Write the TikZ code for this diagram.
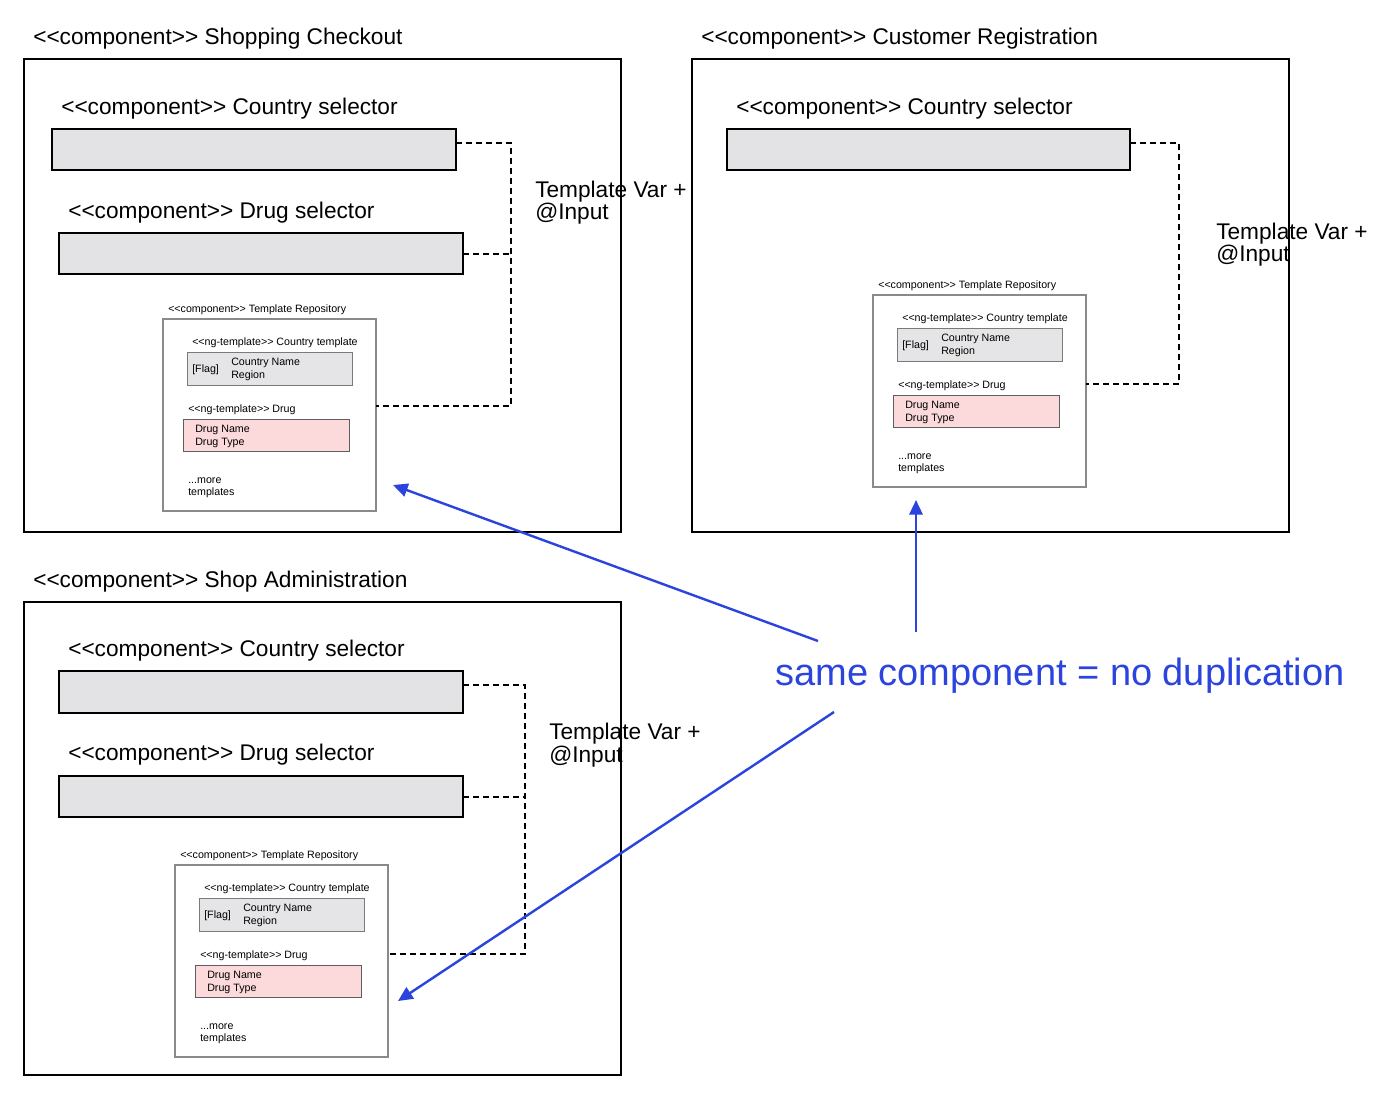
\documentclass[tikz,border=0pt]{standalone}
\usepackage{fontspec}
\setmainfont{Liberation Sans}[Ligatures=TeXOff]
\usetikzlibrary{calc,arrows.meta}
\definecolor{barfill}{HTML}{E3E3E6}
\definecolor{ctyfill}{HTML}{E5E5E7}
\definecolor{drugfill}{HTML}{FCDADC}
\definecolor{repoline}{HTML}{8A8A8A}
\definecolor{ctyline}{HTML}{7A7A7A}
\definecolor{drugline}{HTML}{5E5E5E}
\definecolor{arrowblue}{HTML}{2B44DE}
\tikzset{
  outerbox/.style={draw=black, line width=1.2pt},
  selbar/.style={draw=black, line width=1.3pt, fill=barfill},
  repobox/.style={draw=repoline, line width=0.8pt, fill=white},
  ctybox/.style={draw=ctyline, line width=0.7pt, fill=ctyfill},
  drugbox/.style={draw=drugline, line width=0.7pt, fill=drugfill},
  bigtxt/.style={font=\fontsize{17}{20}\selectfont, anchor=base west, inner sep=0pt},
  smalltxt/.style={font=\fontsize{8}{9.6}\selectfont, anchor=base west, inner sep=0pt},
  bluetxt/.style={font=\fontsize{28.5}{32}\selectfont, text=arrowblue, anchor=base west, inner sep=0pt},
  dashconn/.style={draw=black, line width=1.1pt, dash pattern=on 4.5pt off 3pt},
  bluearrow/.style={draw=arrowblue, line width=1.8pt, -{Triangle[length=11pt,width=10pt]}},
}
\newcommand\mybox[6]{\node[#1, anchor=north west, minimum width={(#4-#2)*0.75pt}, minimum height={(#5-#3)*0.75pt}, inner sep=0pt, outer sep=0pt] (#6) at (#2,#3) {};}
\newcommand\reposet[2]{%
\begin{scope}[shift={#2}]
\node[smalltxt] (#1lbl) at (5,-7) {<<component>> Template Repository};
\mybox{repobox}{0}{0}{213}{192}{#1}
\node[smalltxt] (#1ctl) at (29,26) {<<ng-template>> Country template};
\mybox{ctybox}{24}{33}{189}{66}{#1cty}
\node[smalltxt] (#1flag) at (29,53) {[Flag]};
\node[smalltxt] (#1cn) at (68,46) {Country Name};
\node[smalltxt] (#1rg) at (68,59) {Region};
\node[smalltxt] (#1dl) at (25,93) {<<ng-template>> Drug};
\mybox{drugbox}{20}{100}{186}{132}{#1drug}
\node[smalltxt] (#1dn) at (32,113) {Drug Name};
\node[smalltxt] (#1dt) at (32,126) {Drug Type};
\node[smalltxt] (#1more) at (25,164) {...more};
\node[smalltxt] (#1tpl) at (25,176) {templates};
\end{scope}}
\begin{document}
\begin{tikzpicture}[x=0.75pt, y=-0.75pt]
\useasboundingbox[fill=white] (0,0) rectangle (1400,1101);

% ---------- Shopping Checkout ----------
\node[bigtxt] (sct) at (33,44) {<<component>> Shopping Checkout};
\mybox{outerbox}{24}{59}{621}{532}{sc}
\node[bigtxt] (s1cl) at (61,114) {<<component>> Country selector};
\mybox{selbar}{52}{129}{456}{170}{s1cb}
\node[bigtxt] (s1dl) at (68,218) {<<component>> Drug selector};
\mybox{selbar}{59}{233}{463}{274}{s1db}
\reposet{s1r}{(163,319)}
\coordinate (s1j) at (511,143);
\draw[dashconn] ($(s1cb.north east)+(0,14)$) -- (s1j) |- ($(s1r.east)+(0,-9)$);
\draw[dashconn] ($(s1db.east)+(0,0.5)$) -- ($(s1db.east -| s1j)+(0,0.5)$);
\node[bigtxt] (s1t1) at (535,197) {Template Var +};
\node[bigtxt] (s1t2) at (535,219) {@Input};

% ---------- Customer Registration ----------
\node[bigtxt] (crt) at (701,44) {<<component>> Customer Registration};
\mybox{outerbox}{692}{59}{1289}{532}{cr}
\node[bigtxt] (c1cl) at (736,114) {<<component>> Country selector};
\mybox{selbar}{727}{129}{1130}{170}{c1cb}
\reposet{c1r}{(873,295)}
\coordinate (c1j) at (1179,143);
\draw[dashconn] ($(c1cb.north east)+(0,14)$) -- (c1j) |- ($(c1r.east)+(0,-7)$);
\node[bigtxt] (c1t1) at (1216,239) {Template Var +};
\node[bigtxt] (c1t2) at (1216,261) {@Input};

% ---------- Shop Administration ----------
\node[bigtxt] (sat) at (33,587) {<<component>> Shop Administration};
\mybox{outerbox}{24}{602}{621}{1075}{sa}
\node[bigtxt] (a1cl) at (68,656) {<<component>> Country selector};
\mybox{selbar}{59}{671}{463}{713}{a1cb}
\node[bigtxt] (a1dl) at (68,760) {<<component>> Drug selector};
\mybox{selbar}{59}{776}{463}{817}{a1db}
\reposet{a1r}{(175,865)}
\coordinate (a1j) at (525,685);
\draw[dashconn] ($(a1cb.north east)+(0,14)$) -- (a1j) |- ($(a1r.east)+(0,-7)$);
\draw[dashconn] ($(a1db.east)+(0,0.5)$) -- ($(a1db.east -| a1j)+(0,0.5)$);
\node[bigtxt] (a1t1) at (549,739) {Template Var +};
\node[bigtxt] (a1t2) at (549,762) {@Input};

% ---------- blue note and arrows ----------
\node[bluetxt] (same) at (775,685) {same component = no duplication};
\coordinate (t1) at (818,641);
\coordinate (h1) at (393,485);
\coordinate (t2) at (916,632);
\coordinate (h2) at (916,500);
\coordinate (t3) at (834,712);
\coordinate (h3) at (398,1001);
\draw[bluearrow] (t1) -- (h1);
\draw[bluearrow] (t2) -- (h2);
\draw[bluearrow] (t3) -- (h3);
\end{tikzpicture}
\end{document}
